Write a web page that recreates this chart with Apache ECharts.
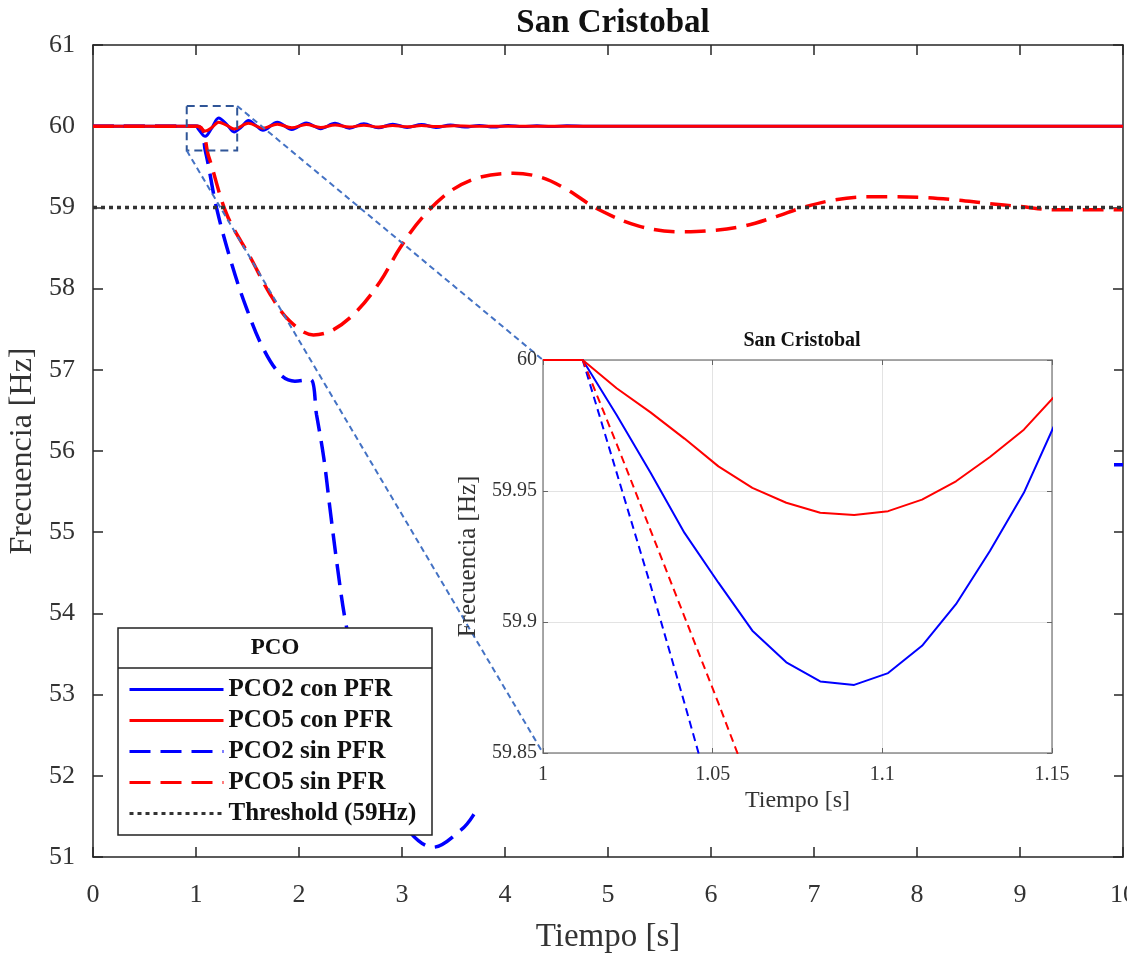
<!DOCTYPE html>
<html>
<head>
<meta charset="utf-8">
<script src="https://cdn.jsdelivr.net/npm/echarts@6/dist/echarts.min.js"></script>
<style>
  html, body { margin: 0; padding: 0; background: #fff; }
  #chart { width: 1127px; height: 954px; }
</style>
</head>
<body>
<div id="chart"></div>
<script>
// main plot: frequency vs time, 0..10 s
const pco2Con = [[0,60],[1.0,60],[1.02,59.97],[1.09,59.875],[1.15,59.97],[1.22,60.1],[1.3,60.02],[1.37,59.93],[1.44,59.99],[1.51,60.07],[1.58,60.01],[1.65,59.95],[1.79,60.05],[1.93,59.96],[2.07,60.04],[2.21,59.97],[2.35,60.035],[2.49,59.975],[2.63,60.03],[2.77,59.98],[2.91,60.025],[3.05,59.985],[3.19,60.02],[3.33,59.985],[3.47,60.015],[3.61,59.99],[3.75,60.01],[3.89,59.99],[4.03,60.01],[4.17,59.995],[4.31,60.005],[4.45,59.995],[4.6,60.005],[4.8,60],[10,60]];
const pco5Con = [[0,60],[1.012,60],[1.05,59.96],[1.09,59.941],[1.15,59.98],[1.22,60.05],[1.3,60.01],[1.37,59.965],[1.51,60.035],[1.65,59.975],[1.79,60.025],[1.93,59.98],[2.07,60.02],[2.21,59.985],[2.35,60.015],[2.49,59.99],[2.63,60.012],[2.77,59.99],[2.91,60.01],[3.05,59.992],[3.19,60.008],[3.33,59.995],[3.5,60.005],[3.7,60],[10,60]];
const pco2Sin = [[0,60],[1.012,60],[1.09,59.7],[1.2,58.99],[1.35,58.29],[1.49,57.76],[1.65,57.27],[1.82,56.94],[1.96,56.86],[2.11,56.88],[2.17,56.45],[2.24,55.92],[2.3,55.3],[2.37,54.6],[2.45,53.91],[2.6,53.0],[2.75,52.2],[2.9,51.7],[3.08,51.3],[3.3,51.12],[3.57,51.33],[3.69,51.51],[4.2,52.6],[5,54],[6,55],[7,55.5],[8,55.75],[9,55.82],[10,55.83]];
const pco5Sin = [[0,60],[1.012,60],[1.12,59.64],[1.3,58.91],[1.53,58.38],[1.72,57.93],[1.91,57.6],[2.14,57.43],[2.33,57.49],[2.56,57.72],[2.79,58.09],[2.98,58.5],[3.2,58.88],[3.47,59.2],[3.75,59.37],[4.08,59.42],[4.35,59.37],[4.6,59.22],[4.9,58.98],[5.3,58.77],[5.7,58.7],[5.96,58.71],[6.32,58.77],[6.64,58.89],[6.87,58.99],[7.19,59.09],[7.52,59.13],[7.77,59.13],[8.1,59.12],[8.39,59.09],[8.68,59.05],[9.01,59.01],[9.33,58.97],[9.88,58.97],[10,58.97]];
const threshold = [[0,59],[10,59]];

// inset (zoom of 1..1.15 s)
const insetPco2Con = [[1,60],[1.0117,60],[1.0217,59.979],[1.0317,59.957],[1.0417,59.934],[1.0517,59.915],[1.0617,59.8967],[1.0717,59.8846],[1.0817,59.8773],[1.0917,59.876],[1.1017,59.8805],[1.1117,59.8909],[1.1217,59.9068],[1.1317,59.9271],[1.1417,59.9493],[1.1517,59.978]];
const insetPco5Con = [[1,60],[1.0117,60],[1.0217,59.9892],[1.0317,59.98],[1.0417,59.97],[1.0517,59.9594],[1.0617,59.9512],[1.0717,59.9455],[1.0817,59.9417],[1.0917,59.9408],[1.1017,59.9423],[1.1117,59.9467],[1.1217,59.9537],[1.1317,59.963],[1.1417,59.9734],[1.1517,59.9875]];
const insetPco2Sin = [[1,60],[1.0117,60],[1.0217,59.957],[1.0317,59.914],[1.0417,59.869],[1.0517,59.823]];
const insetPco5Sin = [[1,60],[1.0117,60],[1.0217,59.968],[1.0317,59.935],[1.0417,59.902],[1.0517,59.869],[1.0617,59.835]];

// zoom box drawn on the main plot
const zoomBoxT = [0.91, 1.40];
const zoomBoxF = [59.70, 60.25];

const names = ['PCO2 con PFR', 'PCO5 con PFR', 'PCO2 sin PFR', 'PCO5 sin PFR', 'Threshold (59Hz)'];
const font = '"Liberation Serif", "Times New Roman", serif';

function mainAxis(pos, showLabel) {
  return {
    type: 'value', gridIndex: 0, position: pos,
    axisLine: { show: true, onZero: false, lineStyle: { color: '#262626', width: 1.5 } },
    axisTick: { show: true, inside: true, length: 10, lineStyle: { color: '#262626', width: 1.5 } },
    axisLabel: { show: showLabel, fontFamily: font, fontSize: 26, color: '#333' },
    splitLine: { show: false }
  };
}
function insetAxis(pos, showLabel) {
  return {
    type: 'value', gridIndex: 1, position: pos, z: 10,
    axisLine: { show: true, onZero: false, lineStyle: { color: '#8c8c8c', width: 1.5 } },
    axisTick: { show: true, inside: true, length: 5, lineStyle: { color: '#666', width: 1 } },
    axisLabel: { show: showLabel, fontFamily: font, fontSize: 20, color: '#333' },
    splitLine: { show: showLabel, lineStyle: { color: '#e3e3e3', width: 1 } }
  };
}

const xMain = Object.assign(mainAxis('bottom', true), { min: 0, max: 10, interval: 1,
  name: 'Tiempo [s]', nameLocation: 'middle', nameGap: 64,
  nameTextStyle: { fontFamily: font, fontSize: 33, color: '#333' } });
xMain.axisLabel.margin = 25;
const xMainTop = Object.assign(mainAxis('top', false), { min: 0, max: 10, interval: 1 });
const yMain = Object.assign(mainAxis('left', true), { min: 51, max: 61, interval: 1,
  name: 'Frecuencia [Hz]', nameLocation: 'middle', nameGap: 52,
  nameTextStyle: { fontFamily: font, fontSize: 32, color: '#333' } });
yMain.axisLabel.margin = 18;
const yMainRight = Object.assign(mainAxis('right', false), { min: 51, max: 61, interval: 1 });

const xIn = Object.assign(insetAxis('bottom', true), { min: 1, max: 1.15, interval: 0.05,
  name: 'Tiempo [s]', nameLocation: 'middle', nameGap: 36,
  nameTextStyle: { fontFamily: font, fontSize: 24, color: '#333' } });
xIn.axisLabel.margin = 12;
const xInTop = Object.assign(insetAxis('top', false), { min: 1, max: 1.15, interval: 0.05 });
const yIn = Object.assign(insetAxis('left', true), { min: 59.85, max: 60, interval: 0.05,
  name: 'Frecuencia [Hz]', nameLocation: 'middle', nameGap: 62,
  nameTextStyle: { fontFamily: font, fontSize: 25, color: '#333' } });
yIn.axisLabel.margin = 6;
const yInRight = Object.assign(insetAxis('right', false), { min: 59.85, max: 60, interval: 0.05 });

function mainLine(name, data, color, type, width) {
  return { name: name, type: 'line', data: data, xAxisIndex: 0, yAxisIndex: 0,
    symbol: 'none', smooth: 0.35, z: 2,
    lineStyle: { color: color, width: width, type: type }, itemStyle: { color: color } };
}
function insetLine(data, color, type) {
  return { type: 'line', data: data, xAxisIndex: 2, yAxisIndex: 2, symbol: 'none',
    z: 12, clip: true, lineStyle: { color: color, width: 2, type: type } };
}

const option = {
  animation: false,
  backgroundColor: '#fff',
  title: [
    { text: 'San Cristobal', left: 608, top: 2, textAlign: 'center',
      textStyle: { fontFamily: font, fontSize: 33, fontWeight: 'bold', color: '#111' } },
    { text: 'San Cristobal', left: 797, top: 326, textAlign: 'center', z: 10,
      textStyle: { fontFamily: font, fontSize: 20, fontWeight: 'bold', color: '#111' } }
  ],
  grid: [
    { left: 93, right: 4, top: 45, bottom: 97, outerBoundsMode: 'none', containLabel: false },
    { left: 543, top: 360, width: 509, height: 393, outerBoundsMode: 'none', containLabel: false }
  ],
  xAxis: [xMain, xMainTop, xIn, xInTop],
  yAxis: [yMain, yMainRight, yIn, yInRight],
  legend: {
    data: names, orient: 'vertical', left: 118, top: 628,
    padding: [49, 10, 9, 10], itemWidth: 94, itemHeight: 14, itemGap: 6,
    selectedMode: false, z: 5,
    itemStyle: { opacity: 0 },
    lineStyle: { width: 3 },
    textStyle: { fontFamily: font, fontSize: 25, fontWeight: 'bold', color: '#111', lineHeight: 24 }
  },
  series: [
    mainLine(names[0], pco2Con, '#0000ff', 'solid', 3),
    mainLine(names[1], pco5Con, '#ff0000', 'solid', 3),
    mainLine(names[2], pco2Sin, '#0000ff', [21, 10], 3.5),
    mainLine(names[3], pco5Sin, '#ff0000', [21, 10], 3.5),
    Object.assign(mainLine(names[4], threshold, '#333', [4, 4], 3.5), { smooth: false }),
    insetLine(insetPco2Con, '#0000ff', 'solid'),
    insetLine(insetPco5Con, '#ff0000', 'solid'),
    insetLine(insetPco2Sin, '#0000ff', [8, 5]),
    insetLine(insetPco5Sin, '#ff0000', [8, 5])
  ]
};

const chart = echarts.init(document.getElementById('chart'));
chart.setOption(option);

// zoom box + connector lines to the inset, placed through the axes
const px = (t, f) => chart.convertToPixel({ xAxisIndex: 0, yAxisIndex: 0 }, [t, f]);
const ipx = (t, f) => chart.convertToPixel({ xAxisIndex: 2, yAxisIndex: 2 }, [t, f]);
const b1 = px(zoomBoxT[0], zoomBoxF[1]);
const b2 = px(zoomBoxT[1], zoomBoxF[0]);
const c1 = px(zoomBoxT[1], zoomBoxF[1]);
const c2 = px(zoomBoxT[0], zoomBoxF[0]);
const i1 = ipx(1, 60);
const i2 = ipx(1, 59.85);

chart.setOption({
  graphic: [
    // white backdrop of the pasted inset
    { type: 'rect', z: 3, shape: { x: 476, y: 322, width: 638, height: 496 }, style: { fill: '#fff' } },
    // legend frame with header
    { type: 'rect', z: 4, shape: { x: 118, y: 628, width: 314, height: 207 },
      style: { fill: '#fff', stroke: '#222', lineWidth: 1.5 } },
    { type: 'line', z: 4, shape: { x1: 118, y1: 668, x2: 432, y2: 668 }, style: { stroke: '#222', lineWidth: 1.5 } },
    { type: 'text', z: 4, style: { text: 'PCO', x: 275, y: 648, align: 'center', verticalAlign: 'middle',
      fontFamily: font, fontSize: 23, fontWeight: 'bold', fill: '#111' } },
    { type: 'rect', z: 6, shape: { x: b1[0], y: b1[1], width: b2[0] - b1[0], height: b2[1] - b1[1] },
      style: { fill: 'none', stroke: '#2f5597', lineWidth: 2, lineDash: [8, 5] } },
    { type: 'line', z: 6, shape: { x1: c1[0], y1: c1[1], x2: i1[0], y2: i1[1] },
      style: { stroke: '#4472c4', lineWidth: 2, lineDash: [6, 4] } },
    { type: 'line', z: 6, shape: { x1: c2[0], y1: c2[1], x2: i2[0], y2: i2[1] },
      style: { stroke: '#4472c4', lineWidth: 2, lineDash: [6, 4] } }
  ]
});
</script>
</body>
</html>
